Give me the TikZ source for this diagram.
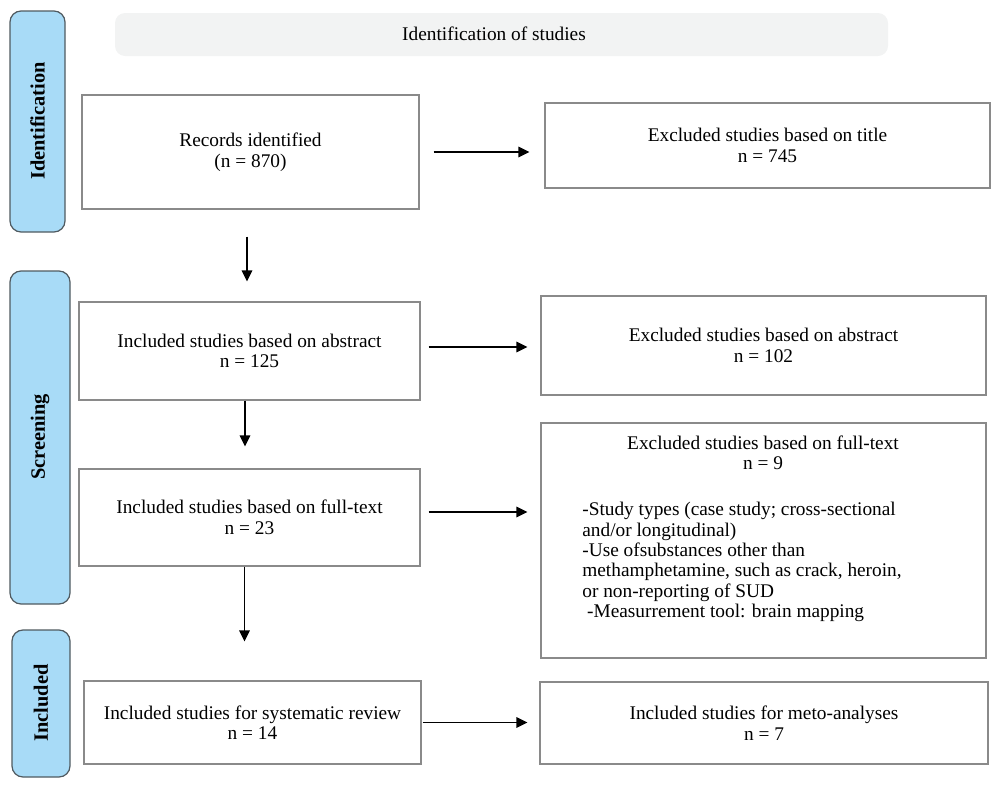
\documentclass[tikz,border=0pt]{standalone}
\usepackage{fontspec}
\setmainfont{Liberation Serif}
\usetikzlibrary{arrows.meta,calc}
\definecolor{sideblue}{HTML}{A8DBF7}
\definecolor{sideedge}{HTML}{505A60}
\definecolor{boxedge}{HTML}{8A8A8A}
\definecolor{titlefill}{HTML}{F2F3F3}
\begin{document}
\begin{tikzpicture}[x=0.02cm,y=-0.02cm,
  sidebox/.style={draw=sideedge,fill=sideblue,rounded corners=0.22cm,line width=0.7pt},
  sidetext/.style={rotate=90,font=\fontsize{11.6}{12}\selectfont\bfseries},
  flowbox/.style={draw=boxedge,line width=0.7pt,align=center,inner sep=0pt,
     font=\fontsize{11}{11.7}\selectfont},
  arr/.style={line width=0.8pt,-{Triangle[length=0.22cm,width=0.21cm]}}
]
\useasboundingbox (0,0) rectangle (1000,788);
% side labels
\draw[sidebox] (10,11) rectangle (65,232);
\node[sidetext] (sideid) at (37.5,121) {Identification};
\draw[sidebox] (10,271) rectangle (70,604);
\node[sidetext] (sidesc) at (40,437) {Screening};
\draw[sidebox] (12,630) rectangle (70,777);
\node[sidetext] (sidein) at (41,703) {Included};
% title
\fill[titlefill,rounded corners=0.2cm] (115,13) rectangle (888,56);
\node[font=\fontsize{11}{12}\selectfont] (title) at (494,34) {Identification of studies};
% boxes
\node[flowbox,minimum width=6.74cm,minimum height=2.28cm] (rec) at (250.5,152) {Records identified\\(n = 870)};
\node[flowbox,minimum width=8.9cm,minimum height=1.7cm] (exti) at (767.5,145.5) {Excluded studies based on title\\n = 745};
\node[flowbox,minimum width=6.82cm,minimum height=1.96cm] (abs) at (249.5,351) {Included studies based on abstract\\n = 125};
\node[flowbox,minimum width=8.9cm,minimum height=1.98cm] (exab) at (763.5,345.5) {Excluded studies based on abstract\\n = 102};
\node[flowbox,minimum width=6.82cm,minimum height=1.94cm] (ft) at (249.5,517.5) {Included studies based on full-text\\n = 23};
\node[flowbox,minimum width=8.9cm,minimum height=4.7cm] (exft) at (763.5,540.5) {};
\node[font=\fontsize{11}{11.7}\selectfont,align=center] (exfthead) at (763,453) {Excluded studies based on full-text\\n = 9};
\node[font=\fontsize{11}{11.6}\selectfont,align=left,anchor=north west,inner sep=0pt] (exftlist) at (582,502)
 {-Study types (case study; cross-sectional\\and/or longitudinal)\\-Use ofsubstances other than\\methamphetamine, such as crack, heroin,\\or non-reporting of SUD\\\ -Measurrement tool: brain mapping};
\node[flowbox,minimum width=6.74cm,minimum height=1.66cm] (sys) at (252.5,722.5) {Included studies for systematic review\\n = 14};
\node[flowbox,minimum width=8.96cm,minimum height=1.64cm] (meta) at (764,723) {Included studies for meto-analyses\\n = 7};
% arrows
\draw[arr,shorten <=0.28cm,shorten >=0.3cm] (rec.east) -- (rec.east -| exti.west);
\draw[arr,shorten <=0.54cm,shorten >=0.4cm] ([xshift=-0.07cm]rec.south) -- ([xshift=-0.07cm]rec.south |- abs.north);
\draw[arr,shorten <=0.16cm,shorten >=0.26cm] ([yshift=0.08cm]abs.east) -- ([yshift=0.08cm]abs.east -| exab.west);
\draw[arr,shorten >=0.44cm] ([xshift=-0.09cm]abs.south) -- ([xshift=-0.09cm]abs.south |- ft.north);
\draw[arr,shorten <=0.16cm,shorten >=0.26cm] ([yshift=0.11cm]ft.east) -- ([yshift=0.11cm]ft.east -| exft.west);
\draw[arr,shorten >=0.78cm] ([xshift=-0.1cm]ft.south) -- ([xshift=-0.1cm]ft.south |- sys.north);
\draw[arr,shorten <=0.02cm,shorten >=0.24cm] (sys.east) -- (sys.east -| meta.west);
\end{tikzpicture}
\end{document}
